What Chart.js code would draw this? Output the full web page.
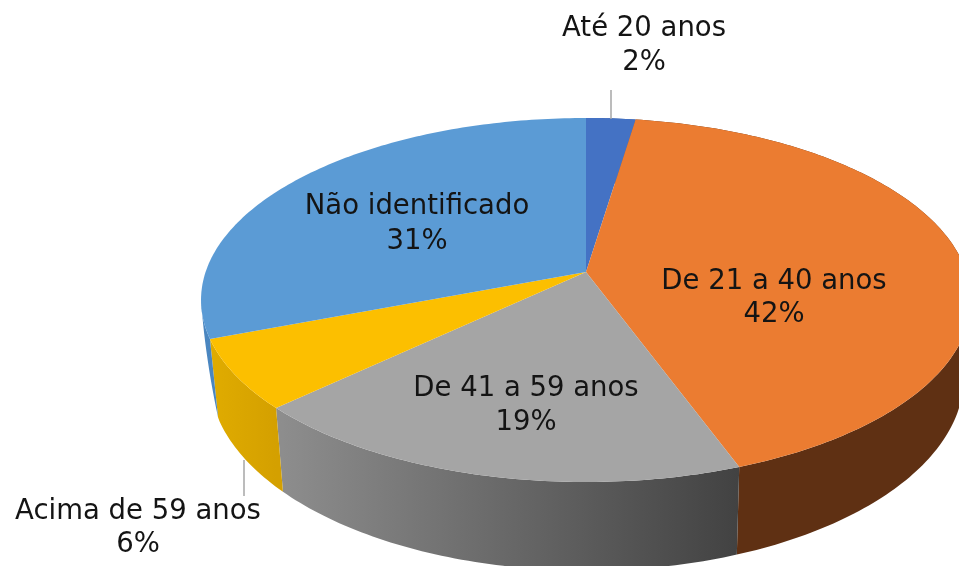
<!DOCTYPE html>
<html>
<head>
<meta charset="utf-8">
<title>Faixa etária</title>
<script src="https://cdn.jsdelivr.net/npm/chart.js"></script>
<style>
  html, body { margin: 0; padding: 0; background: #fff; overflow: hidden; }
  canvas { display: block; }
</style>
</head>
<body>
<canvas id="chart" width="959" height="566"></canvas>
<script>
// Data (labels round to 2/42/19/6/31)
const categories = ["Até 20 anos", "De 21 a 40 anos", "De 41 a 59 anos", "Acima de 59 anos", "Não identificado"];
const shares = [2.4, 42.0, 18.6, 6.2, 30.8];
const topColors = ["#4472c4", "#eb7c31", "#a5a5a5", "#fcbf00", "#5b9bd5"];
const sideColors = [["#3a5fa5", "#3a5fa5"], ["#5f3013", "#5f3013"], ["#8e8e8e", "#424242"], ["#e0ac00", "#d4a000"], ["#4a86c0", "#5590c8"]];
const labelSpots = [[644, 36, 70], [774, 289, 322], [526, 396, 430], [138, 519, 552], [417, 214, 249]];
const leaders = [[611, 90, 119], [244, 460, 496]];

// Tilted disc: the pie is seen in perspective, so its apex sits above the ellipse centre
const view = { cx: 586, cy: 272, a: 380.4, b: 177.7, k: 0.1538, depth: 75, baseX: 620, baseScale: 0.98 };
// the wall thins out towards the left silhouette of the disc
const taperFrom = 159 * Math.PI / 180, taperTo = 171 * Math.PI / 180;

function topPoint(angle) {
  const u = Math.cos(angle), v = Math.sin(angle), w = 1 - view.k * v;
  return [view.cx + view.a * u / w, view.cy + view.b * v / w, w];
}

function basePoint(angle) {
  const [x, y, w] = topPoint(angle);
  const f = Math.min(1, Math.max(0, (taperTo - angle) / (taperTo - taperFrom)));
  const bx = view.baseX + (x - view.baseX) * view.baseScale;
  return [x + (bx - x) * f, y + f * view.depth / w];
}

const pie3d = {
  id: "pie3d",
  beforeDatasetDraw(chart) {
    const ctx = chart.ctx;
    const arcs = chart.getDatasetMeta(0).data;
    const steps = a => Math.max(8, Math.ceil((a.endAngle - a.startAngle) * 60));

    // outer wall first, the top face covers whatever is behind it
    arcs.forEach((a, i) => {
      const n = steps(a);
      const top = [], base = [];
      for (let s = 0; s <= n; s++) {
        const t = a.startAngle + (a.endAngle - a.startAngle) * s / n;
        top.push(topPoint(t));
        base.push(basePoint(t));
      }
      const xs = top.map(p => p[0]);
      const grad = ctx.createLinearGradient(Math.min(...xs), 0, Math.max(...xs), 0);
      grad.addColorStop(0, sideColors[i][0]);
      grad.addColorStop(1, sideColors[i][1]);
      ctx.beginPath();
      top.forEach((p, j) => j ? ctx.lineTo(p[0], p[1]) : ctx.moveTo(p[0], p[1]));
      base.reverse().forEach(p => ctx.lineTo(p[0], p[1]));
      ctx.closePath();
      ctx.fillStyle = grad;
      ctx.fill();
    });

    arcs.forEach((a, i) => {
      const n = steps(a);
      ctx.beginPath();
      ctx.moveTo(view.cx, view.cy);
      for (let s = 0; s <= n; s++) {
        const p = topPoint(a.startAngle + (a.endAngle - a.startAngle) * s / n);
        ctx.lineTo(p[0], p[1]);
      }
      ctx.closePath();
      ctx.fillStyle = topColors[i];
      ctx.fill();
    });
    return false;
  },
  afterDraw(chart) {
    const ctx = chart.ctx;
    ctx.save();
    ctx.strokeStyle = "#a6a6a6";
    ctx.lineWidth = 1.5;
    leaders.forEach(([x, y1, y2]) => {
      ctx.beginPath();
      ctx.moveTo(x, y1);
      ctx.lineTo(x, y2);
      ctx.stroke();
    });
    ctx.fillStyle = "#141414";
    ctx.font = "27.5px 'DejaVu Sans'";
    ctx.textAlign = "center";
    categories.forEach((name, i) => {
      const [x, y1, y2] = labelSpots[i];
      ctx.fillText(name, x, y1);
      ctx.fillText(Math.round(shares[i]) + "%", x, y2);
    });
    ctx.restore();
  }
};

new Chart(document.getElementById("chart"), {
  type: "pie",
  data: {
    labels: categories,
    datasets: [{ data: shares, backgroundColor: topColors, borderWidth: 0 }]
  },
  options: {
    responsive: false,
    animation: false,
    plugins: { legend: { display: false }, tooltip: { enabled: false } }
  },
  plugins: [pie3d]
});
</script>
</body>
</html>
